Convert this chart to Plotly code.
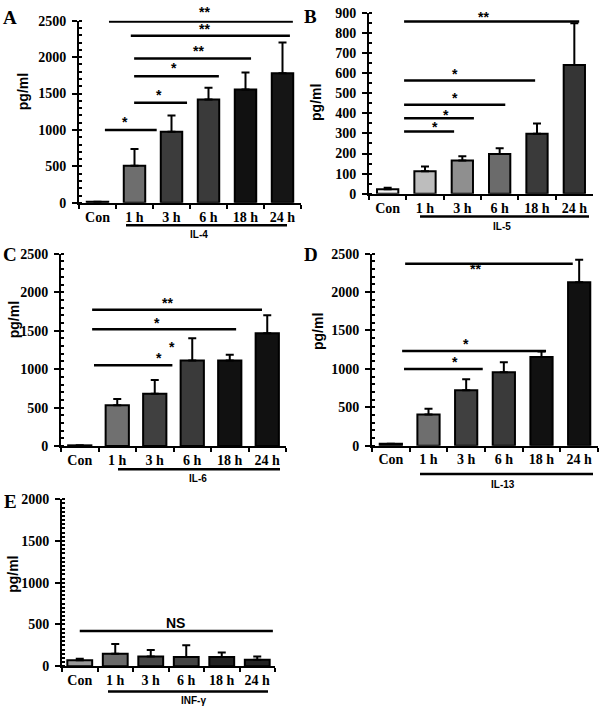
import plotly.graph_objects as go

W, H = 600, 717

categories = ["Con", "1 h", "3 h", "6 h", "18 h", "24 h"]

# ---- data (pg/ml) ----
il4_mean = [15, 510, 975, 1420, 1555, 1780]
il4_err_top = [15, 740, 1200, 1580, 1790, 2200]
il5_mean = [22, 112, 165, 198, 298, 640]
il5_err_top = [30, 135, 186, 226, 350, 848]
il6_mean = [10, 531, 680, 1114, 1114, 1467]
il6_err_top = [10, 612, 859, 1403, 1186, 1701]
il13_mean = [25, 405, 720, 955, 1155, 2130]
il13_err_top = [25, 480, 865, 1085, 1225, 2420]
ifng_mean = [70, 148, 117, 109, 109, 78]
ifng_err_top = [90, 266, 195, 250, 164, 117]

# significance brackets: (x_start, x_end, y, label, label_x, label_y) in category index / data units
il4_sig = [(0.2, 1.6, 1000, "*", 0.74, 1110),
           (0.99, 2.42, 1375, "*", 1.66, 1480),
           (0.99, 3.28, 1738, "*", 2.07, 1845),
           (0.99, 4.15, 1980, "**", 2.72, 2090),
           (0.9, 5.2, 2294, "**", 2.9, 2380),
           (0.31, 5.28, 2490, "**", 2.9, 2625)]
il5_sig = [(0.44, 5.13, 857, "**", 2.58, 880),
           (0.44, 3.95, 563, "*", 1.8, 598),
           (0.44, 3.15, 443, "*", 1.8, 478),
           (0.44, 2.31, 375, "*", 1.56, 392),
           (0.44, 1.78, 310, "*", 1.27, 330)]
il6_sig = [(0.33, 4.86, 1773, "**", 2.35, 1860),
           (0.33, 4.17, 1518, "*", 2.06, 1605),
           (0.38, 2.47, 1050, "*", 2.1, 1145)]
il6_extra = [(2.45, 1285, "*")]
il13_sig = [(0.38, 4.83, 2369, "**", 2.26, 2300),
            (0.3, 4.12, 1234, "*", 2.0, 1325),
            (0.35, 2.44, 998, "*", 1.7, 1095)]
ifng_sig = [(0.0, 5.44, 422, "NS", 2.7, 520)]

colors_A = ["#222222", "#6e6e6e", "#3c3c3c", "#3a3a3a", "#111111", "#151515"]
colors_B = ["#f6f6f6", "#bdbdbd", "#8f8f8f", "#6b6b6b", "#3a3a3a", "#353535"]
colors_C = ["#333333", "#707070", "#404040", "#3a3a3a", "#111111", "#111111"]
colors_D = ["#333333", "#6e6e6e", "#404040", "#3a3a3a", "#111111", "#111111"]
colors_E = ["#9a9a9a", "#6a6a6a", "#454545", "#444444", "#222222", "#222222"]

# ---- panel geometry in pixels ----
panels = [
    dict(key="A", mean=il4_mean, err=il4_err_top, sig=il4_sig, colors=colors_A, name="IL-4",
         x0=79, x1=301, zero=200, top=14, ymax=2500, dtick=500, minor=100, bw=0.58,
         letter=(10, 11), ytitle=(23, 87), ul=(126, 287, 223), name_pos=(199, 232)),
    dict(key="B", mean=il5_mean, err=il5_err_top, sig=il5_sig, colors=colors_B, name="IL-5",
         x0=369, x1=593, zero=190.7, top=6, ymax=900, dtick=100, minor=50, bw=0.57,
         letter=(310, 10), ytitle=(316, 97), ul=(420, 589, 214), name_pos=(502, 224)),
    dict(key="C", mean=il6_mean, err=il6_err_top, sig=il6_sig, colors=colors_C, name="IL-6",
         x0=61, x1=286, zero=448.5, top=252, ymax=2500, dtick=500, minor=100, bw=0.62,
         letter=(10, 253), ytitle=(14, 320), ul=(118, 280, 472), name_pos=(198, 482)),
    dict(key="D", mean=il13_mean, err=il13_err_top, sig=il13_sig, colors=colors_D, name="IL-13",
         x0=372, x1=598, zero=448, top=252, ymax=2500, dtick=500, minor=100, bw=0.59,
         letter=(311, 253), ytitle=(318, 332), ul=(420, 593, 477), name_pos=(503, 488)),
    dict(key="E", mean=ifng_mean, err=ifng_err_top, sig=ifng_sig, colors=colors_E, name="INF-γ",
         x0=62, x1=275, zero=673.3, top=502.7, ymax=2000, dtick=500, minor=50, bw=0.7,
         letter=(10, 505), ytitle=(13, 580), ul=(108, 268, 699), name_pos=(193, 708)),
]

SERIF = "Liberation Serif"
SANS = "Liberation Sans"

fig = go.Figure()
layout = dict(width=W, height=H, margin=dict(l=0, r=0, t=0, b=0),
              paper_bgcolor="white", plot_bgcolor="white", showlegend=False)
shapes = []
annotations = []


def px(x):
    return x / W


def py(y):
    return 1 - y / H


def ann(**kw):
    kw.setdefault("showarrow", False)
    kw.setdefault("xanchor", "center")
    kw.setdefault("yanchor", "middle")
    kw.setdefault("borderpad", 0)
    annotations.append(kw)


for i, p in enumerate(panels):
    n = i + 1
    xa = "x" if n == 1 else f"x{n}"
    ya = "y" if n == 1 else f"y{n}"
    xkey = "xaxis" if n == 1 else f"xaxis{n}"
    ykey = "yaxis" if n == 1 else f"yaxis{n}"

    fig.add_trace(go.Bar(
        x=categories, y=p["mean"], xaxis=xa, yaxis=ya, width=p["bw"],
        marker=dict(color=p["colors"], line=dict(color="black", width=2)),
        error_y=dict(type="data", symmetric=False,
                     array=[t - m for t, m in zip(p["err"], p["mean"])],
                     arrayminus=[0] * len(p["mean"]),
                     color="black", thickness=2, width=4),
    ))

    layout[xkey] = dict(domain=[px(p["x0"]), px(p["x1"])], anchor=ya, type="category",
                        range=[-0.5, 5.5], showline=True, linecolor="black", linewidth=2,
                        ticks="outside", tickson="boundaries", ticklen=4, tickwidth=2,
                        tickcolor="black", showgrid=False, zeroline=False,
                        tickfont=dict(family=SERIF, size=14, color="black", weight="bold"))
    layout[ykey] = dict(domain=[py(p["zero"]), py(p["top"])], anchor=xa,
                        range=[0, p["ymax"]], dtick=p["dtick"], tick0=0,
                        showline=True, linecolor="black", linewidth=2,
                        ticks="outside", ticklen=5, tickwidth=2, tickcolor="black",
                        showgrid=False, zeroline=False, ticklabelstandoff=3,
                        minor=dict(dtick=p["minor"], ticks="inside", ticklen=3,
                                   tickwidth=1.5, tickcolor="black", showgrid=False),
                        tickfont=dict(family=SERIF, size=14, color="black", weight="bold"))

    # significance brackets (labels placed in axis-domain units so none get hidden)
    for (a, b, yv, lab, lx, ly) in p["sig"]:
        shapes.append(dict(type="line", xref=xa, yref=ya, x0=a, x1=b,
                           y0=yv, y1=yv, line=dict(color="black", width=2.5)))
        ann(x=(lx + 0.5) / 6, y=ly / p["ymax"], xref=f"{xa} domain", yref=f"{ya} domain",
            text=lab, font=dict(family=SANS, size=14, color="black", weight="bold"))
    if p["key"] == "C":
        for (lx, ly, lab) in il6_extra:
            ann(x=(lx + 0.5) / 6, y=ly / p["ymax"], xref=f"{xa} domain",
                yref=f"{ya} domain", text=lab,
                font=dict(family=SANS, size=14, color="black", weight="bold"))

    # underline + cytokine name
    u0, u1, uy = p["ul"]
    shapes.append(dict(type="line", xref="paper", yref="paper", x0=px(u0), x1=px(u1),
                       y0=py(uy), y1=py(uy), line=dict(color="black", width=2.5)))
    ann(x=px(p["name_pos"][0]), y=py(p["name_pos"][1]), xref="paper", yref="paper",
        text=p["name"], font=dict(family=SANS, size=10, color="black", weight="bold"))
    # panel letter
    ann(x=px(p["letter"][0]), y=py(p["letter"][1]), xref="paper", yref="paper",
        text=p["key"], font=dict(family=SERIF, size=19, color="black", weight="bold"))
    # y title
    ann(x=px(p["ytitle"][0]), y=py(p["ytitle"][1]), xref="paper", yref="paper",
        text="pg/ml", textangle=-90,
        font=dict(family=SANS, size=14, color="black", weight="bold"))

layout["shapes"] = shapes
layout["annotations"] = annotations
fig.update_layout(**layout)
fig.write_html("out.html")
